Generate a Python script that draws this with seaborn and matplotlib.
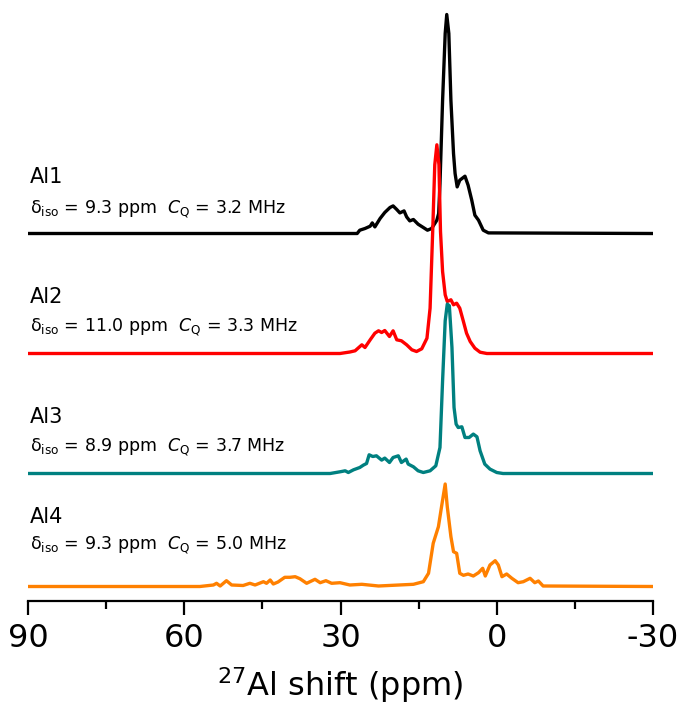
import matplotlib
matplotlib.use("Agg")
import matplotlib.pyplot as plt
import seaborn as sns
import pandas as pd
from matplotlib.ticker import FixedLocator

# ---------------- data ----------------
names = ["Al1", "Al2", "Al3", "Al4"]
params = [
    r"δ$_{\rm iso}$ = 9.3 ppm  $\mathit{C}_{\rm Q}$ = 3.2 MHz",
    r"δ$_{\rm iso}$ = 11.0 ppm  $\mathit{C}_{\rm Q}$ = 3.3 MHz",
    r"δ$_{\rm iso}$ = 8.9 ppm  $\mathit{C}_{\rm Q}$ = 3.7 MHz",
    r"δ$_{\rm iso}$ = 9.3 ppm  $\mathit{C}_{\rm Q}$ = 5.0 MHz",
]

al1_ppm = [90, 26.8, 26.3, 25.3, 24.3, 23.9, 23.4, 22.4, 21.5, 20.5, 19.9, 19.2, 18.6, 17.8,
           17.3, 16.7, 16.0, 15.1, 14.1, 13.3, 12.5, 11.5, 11.15, 10.9, 10.7, 10.4, 9.9, 9.6, 9.2,
           8.8, 8.3, 8.0, 7.6, 7.1, 6.1, 5.5, 4.8, 4.2, 3.5, 2.6, 1.6, -30]
al1_int = [0, 0, 3.3, 5, 7.3, 10.6, 6.6, 15, 21, 26, 27.6, 24, 20.6, 22.6,
           16.6, 12.6, 14, 9.3, 6, 3.3, 5, 13.3, 20, 50, 83, 133, 200, 219, 200,
           133, 80, 60, 46.6, 53.3, 57.3, 48.3, 33.3, 18.3, 13.3, 3.3, 0.6, 0]

al2_ppm = [90, 30.1, 28.2, 27.2, 25.9, 25.3, 24.3, 23.4, 22.7, 22.1, 21.5, 20.6, 19.9, 19.2,
           18.3, 17.3, 16.3, 15.4, 14.4, 13.4, 12.8, 12.3, 11.9, 11.5, 11.1, 10.8, 10.4, 9.9,
           9.5, 8.8, 8.3, 7.7, 7.1, 6.4, 5.8, 5.1, 4.2, 3.2, 1.9, -30]
al2_int = [0, 0, 1.5, 2.7, 8.7, 6, 13.7, 20.3, 22.7, 21, 23, 17, 22.7, 13.7,
           12.7, 8.7, 3.7, 2, 4.7, 15.3, 45.3, 122, 188.7, 208.7, 188.7, 122, 82, 58.7,
           52, 53.7, 48.7, 50.3, 45.3, 32, 20.3, 12, 5.3, 1.3, 0, 0]

al3_ppm = [90, 32.0, 30.1, 29.1, 28.5, 27.5, 26.3, 25.6, 25.0, 24.5, 23.8, 23.1, 22.1, 21.5,
           20.6, 19.9, 18.9, 18.3, 17.4, 17.0, 16.0, 15.1, 14.1, 12.8, 11.7, 10.9, 10.4, 9.9,
           9.5, 9.1, 8.6, 8.2, 7.8, 7.4, 6.7, 6.1, 5.3, 4.5, 3.8, 3.2, 2.3, 1.3, 0.0, -1.2, -30]
al3_int = [0, 0, 1.7, 2.7, 1, 3.7, 6, 8.4, 10, 18.7, 17, 17.7, 13.4, 15.4,
           11, 16, 17.7, 11, 14.4, 9.4, 6.7, 2.7, 1, 2.7, 7.7, 26, 92.7, 152.7,
           169.4, 167.7, 126, 66, 49.4, 46, 46.7, 36, 36, 39.4, 36.7, 22.7, 9.4, 4.4, 1, 0, 0]

al4_ppm = [90, 57.0, 54.4, 53.8, 53.1, 51.9, 50.9, 48.7, 47.4, 46.4, 44.8, 44.2, 43.5, 42.9,
           42.0, 40.7, 39.7, 38.7, 37.8, 36.5, 34.9, 33.9, 32.8, 31.7, 30.1, 28.2, 25.9, 22.7,
           16.0, 14.1, 13.1, 12.2, 11.2, 10.6, 9.9, 9.5, 8.8, 8.3, 7.7, 7.1, 6.4, 5.5, 4.5,
           3.5, 2.7, 2.2, 1.3, 0.3, -0.3, -1.0, -1.9, -2.9, -4.1, -5.1, -6.4, -7.3, -8.0, -8.9, -30]
al4_int = [0, 0, 1.5, 3.2, 0.5, 5.8, 1.5, 1, 3.2, 1.5, 4.8, 3.2, 6.5, 2.5,
           4.5, 9.2, 9.2, 9.8, 7.8, 3.2, 7.2, 3.8, 5.8, 3.2, 3.8, 1.5, 2.2, 0.5,
           2.2, 4.8, 13.2, 43.2, 59.8, 79.8, 102.5, 79.8, 49.8, 34.8, 33.2, 13.2, 11.2, 12.5, 10.5,
           13.8, 18.2, 10.5, 21.5, 25.8, 21.5, 9.8, 12.5, 8.2, 3.8, 4.8, 8.2, 3.8, 5.5, 0.5, 0]

xticks_major = [90, 60, 30, 0, -30]
xticks_minor = [75, 45, 15, -15]

# ---------------- layout / style ----------------
offsets = [353, 233, 113, 0]
colors = ["#000000", "#ff0000", "#008080", "#ff8000"]
title_y = [403.5, 283.5, 163.5, 63.5]
param_y = [373.5, 254.5, 134.5, 37.5]

sns.set_style("white")
plt.rcParams["font.family"] = ["DejaVu Sans"]
plt.rcParams["mathtext.fontset"] = "dejavusans"
plt.rcParams["text.color"] = "black"
plt.rcParams["axes.labelcolor"] = "black"
plt.rcParams["xtick.color"] = "black"
plt.rcParams["xtick.labelcolor"] = "black"

fig = plt.figure(figsize=(6.82, 7.2), dpi=100)
ax = fig.add_axes([28 / 682, (720 - 600.7) / 720, 625 / 682, 600.7 / 720])

spectra = [(al1_ppm, al1_int), (al2_ppm, al2_int), (al3_ppm, al3_int), (al4_ppm, al4_int)]
frames = []
for name, (p, i), off in zip(names, spectra, offsets):
    frames.append(pd.DataFrame({"ppm": p, "y": [v + off for v in i], "site": name}))
df = pd.concat(frames, ignore_index=True)

sns.lineplot(data=df, x="ppm", y="y", hue="site", palette=dict(zip(names, colors)),
             estimator=None, sort=False, linewidth=2.4, legend=False, ax=ax)

for name, txt, ty, py in zip(names, params, title_y, param_y):
    ax.text(89.6, ty, name, fontsize=15, ha="left", va="baseline", color="black")
    ax.text(89.6, py, txt, fontsize=12.5, ha="left", va="baseline", color="black")

ax.set_xlim(90, -30)
ax.set_ylim(-14.2, 586.5)
for s in ["top", "right", "left"]:
    ax.spines[s].set_visible(False)
ax.spines["bottom"].set_linewidth(1.6)
ax.spines["bottom"].set_color("black")
ax.set_yticks([])
ax.xaxis.set_major_locator(FixedLocator(xticks_major))
ax.xaxis.set_minor_locator(FixedLocator(xticks_minor))
ax.set_xticklabels([str(t) for t in xticks_major])
ax.tick_params(axis="x", which="major", direction="out", length=10, width=1.6,
               labelsize=23, pad=6, bottom=True, color="black", labelcolor="black")
ax.tick_params(axis="x", which="minor", direction="out", length=6, width=1.6,
               bottom=True, color="black")
ax.set_ylabel("")
ax.set_xlabel(r"$^{27}$Al shift (ppm)", fontsize=23, labelpad=8, color="black")

fig.savefig("out.png", dpi=100)
